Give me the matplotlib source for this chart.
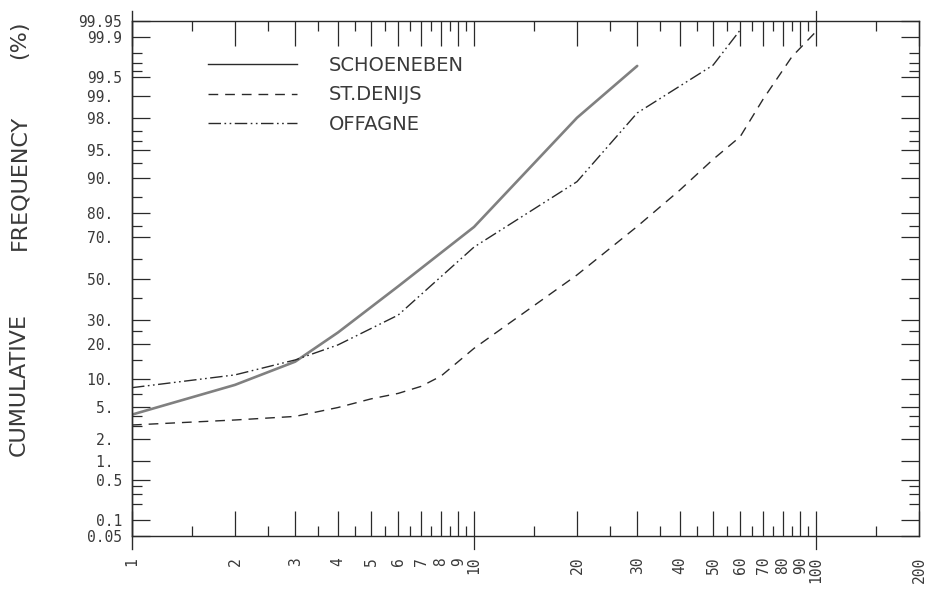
import math

import matplotlib

matplotlib.use("Agg")
import matplotlib.pyplot as plt
import numpy as np
from matplotlib.lines import Line2D
from matplotlib.ticker import NullFormatter

# --- data (x = class value, p = cumulative %) ---
schoeneben_x = [1, 2, 3, 4, 6, 10, 20, 30]
schoeneben_p = [4.1, 8.7, 14.4, 24.5, 46.0, 74.5, 98.0, 99.67]

st_denijs_x = [1, 2, 3, 4, 5, 6, 7, 8, 10, 20, 30, 40, 50, 60, 70, 85, 100]
st_denijs_p = [3.06, 3.53, 3.9, 4.96, 6.2, 7.1, 8.4, 10.6, 18.6, 51.8,
               74.7, 87.1, 93.6, 96.5, 98.9, 99.77, 99.92]

offagne_x = [1, 2, 3, 4, 6, 10, 20, 30, 50, 60]
offagne_p = [8.15, 10.9, 14.9, 19.8, 32.0, 65.6, 89.2, 98.28, 99.68, 99.925]

series_names = ["SCHOENEBEN", "ST.DENIJS", "OFFAGNE"]

ytick_values = [0.05, 0.1, 0.5, 1, 2, 5, 10, 20, 30, 50, 70, 80, 90, 95,
                98, 99, 99.5, 99.9, 99.95]
ytick_labels = ["0.05", "0.1", "0.5", "1. ", "2. ", "5. ", "10. ", "20. ",
                "30. ", "50. ", "70. ", "80. ", "90. ", "95. ", "98. ", "99. ",
                "99.5", "99.9", "99.95"]
yminor_values = [0.2, 0.3, 0.4, 3, 4, 7, 15, 25, 40, 60, 75, 85, 93, 96, 97,
                 99.6, 99.7, 99.8]

xtick_values = [1, 2, 3, 4, 5, 6, 7, 8, 9, 10, 20, 30, 40, 50, 60, 70, 80,
                90, 100, 200]
xminor_values = [1.5, 2.5, 3.5, 4.5, 5.5, 6.5, 7.5, 8.5, 9.5, 15, 25, 35, 45,
                 55, 65, 75, 85, 95, 150]

INK = "#2a2a2a"
TEXT = "#3a3a3a"

# normal probability scale (Acklam's inverse normal)
A = [-3.969683028665376e+01, 2.209460984245205e+02, -2.759285104469687e+02,
     1.383577518672690e+02, -3.066479806614716e+01, 2.506628277459239e+00]
B = [-5.447609879822406e+01, 1.615858368580409e+02, -1.556989798598866e+02,
     6.680131188771972e+01, -1.328068155288572e+01]
C = [-7.784894002430293e-03, -3.223964580411365e-01, -2.400758277161838e+00,
     -2.549671348283429e+00, 4.374664141464968e+00, 2.938163982698783e+00]
D = [7.784695709041462e-03, 3.224671290700398e-01, 2.445134137142996e+00,
     3.754408661907416e+00]


def norm_ppf(p):
    q = p - 0.5
    r = q * q
    central = ((((((A[0] * r + A[1]) * r + A[2]) * r + A[3]) * r + A[4]) * r + A[5]) * q
               / (((((B[0] * r + B[1]) * r + B[2]) * r + B[3]) * r + B[4]) * r + 1))
    pl = np.minimum(p, 1 - p)
    s = np.sqrt(-2 * np.log(pl))
    tail = ((((((C[0] * s + C[1]) * s + C[2]) * s + C[3]) * s + C[4]) * s + C[5])
            / ((((D[0] * s + D[1]) * s + D[2]) * s + D[3]) * s + 1))
    tail = np.where(p < 0.5, tail, -tail)
    return np.where(pl < 0.02425, tail, central)


_erf = np.vectorize(math.erf)


def prob_forward(p):
    p = np.clip(np.asarray(p, dtype=float) / 100.0, 1e-9, 1 - 1e-9)
    return norm_ppf(p)


def prob_inverse(z):
    z = np.asarray(z, dtype=float)
    return 50.0 * (1.0 + _erf(z / math.sqrt(2)))


fig = plt.figure(figsize=(9.28, 5.97), dpi=100)
ax = fig.add_axes([132 / 928, 61 / 597, 787 / 928, 515 / 597])

ax.set_xscale("log")
ax.set_yscale("function", functions=(prob_forward, prob_inverse))
ax.set_xlim(1, 200)
ax.set_ylim(0.05, 99.95)

ax.plot(schoeneben_x, schoeneben_p, color="#808080", lw=1.9,
        solid_capstyle="round")
ax.plot(st_denijs_x, st_denijs_p, color=INK, lw=1.0, dashes=(7, 5))
ax.plot(offagne_x, offagne_p, color=INK, lw=1.0,
        dashes=(9, 2.5, 1.2, 2.5, 1.2, 2.5))

# axes and ticks
for sp in ax.spines.values():
    sp.set_color(INK)
    sp.set_linewidth(1.0)

ax.set_yticks(ytick_values, labels=ytick_labels)
ax.set_yticks(yminor_values, minor=True)
ax.yaxis.set_minor_formatter(NullFormatter())
ax.set_xticks(xtick_values, labels=[str(v) for v in xtick_values])
ax.set_xticks(xminor_values, minor=True)
ax.xaxis.set_minor_formatter(NullFormatter())

ax.tick_params(axis="y", which="both", direction="in", left=True,
               right=True, color=INK, width=0.9)
ax.tick_params(axis="y", which="major", length=13, pad=7)
ax.tick_params(axis="y", which="minor", length=7)
ax.tick_params(axis="x", which="both", direction="in", bottom=True,
               top=True, color=INK, width=0.9)
ax.tick_params(axis="x", which="major", length=18, pad=15,
               labelrotation=90)
ax.tick_params(axis="x", which="minor", length=7)

for lab in ax.get_xticklabels() + ax.get_yticklabels():
    lab.set_fontfamily("DejaVu Sans Mono")
    lab.set_fontsize(10.5)
    lab.set_color(TEXT)

# decade ticks cross the frame
for xv in (10, 100):
    ax.axvline(xv, ymin=-0.025, ymax=0, color=INK, lw=0.9, clip_on=False)
ax.axvline(100, ymin=1.0, ymax=1.02, color=INK, lw=0.9, clip_on=False)
ax.axvline(1, ymin=-0.025, ymax=1.02, color=INK, lw=1.0, clip_on=False)

# legend
handles = [
    Line2D([], [], color=INK, lw=1.0),
    Line2D([], [], color=INK, lw=1.0, dashes=(7, 5)),
    Line2D([], [], color=INK, lw=1.0, dashes=(9, 2.5, 1.2, 2.5, 1.2, 2.5)),
]
leg = ax.legend(handles, series_names, loc="upper left",
                bbox_to_anchor=(0.0966, 0.932), frameon=False, fontsize=14,
                handlelength=4.6, handletextpad=1.6, labelspacing=0.53,
                borderpad=0, borderaxespad=0)
for t in leg.get_texts():
    t.set_color(TEXT)

# y axis title, word by word as spaced out on the original
for word, ypix in (("CUMULATIVE", 385), ("FREQUENCY", 182), ("(%)", 40)):
    fig.text(19 / 928, 1 - ypix / 597, word, rotation=90, ha="center",
             va="center", fontsize=16, color=TEXT)

fig.savefig("out.png", dpi=100)
